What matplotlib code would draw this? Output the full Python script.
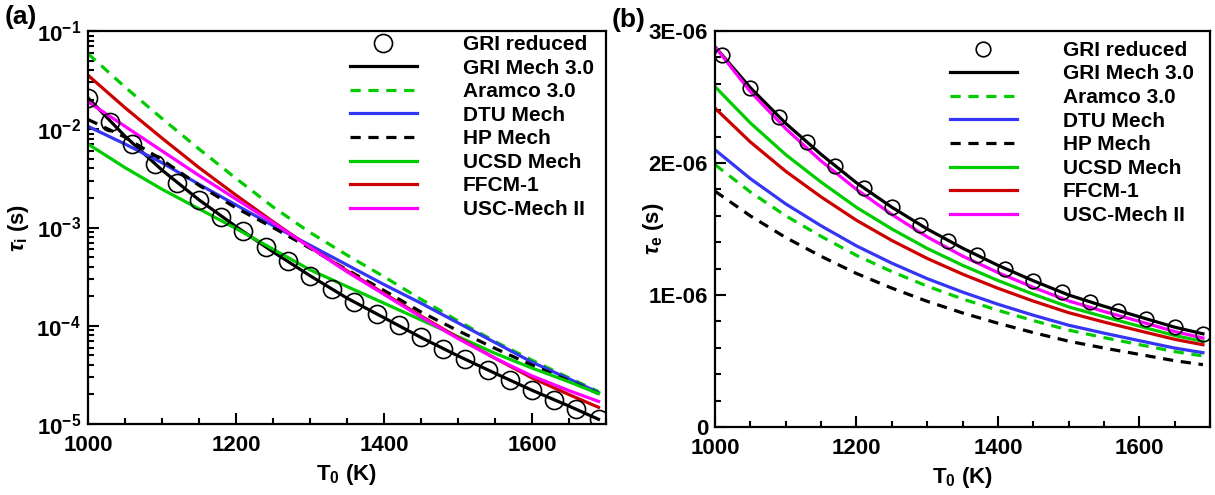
import numpy as np
import matplotlib
matplotlib.use("Agg")
import matplotlib.pyplot as plt
from matplotlib.ticker import FixedLocator, MultipleLocator, LogLocator, NullFormatter

plt.rcParams['font.family'] = ['Liberation Sans', 'DejaVu Sans']
plt.rcParams['font.weight'] = 'bold'
plt.rcParams['mathtext.fontset'] = 'custom'
plt.rcParams['mathtext.rm'] = 'Liberation Sans'
plt.rcParams['mathtext.bf'] = 'Liberation Sans:bold'
plt.rcParams['mathtext.it'] = 'Liberation Sans:italic'

# temperatures (K)
T_line = [1000, 1050, 1100, 1150, 1200, 1250, 1300, 1350, 1400, 1450, 1500, 1550, 1600, 1650, 1690]
T_red_a = [1000, 1030, 1060, 1090, 1120, 1150, 1180, 1210, 1240, 1270, 1300, 1330,
           1360, 1390, 1420, 1450, 1480, 1510, 1540, 1570, 1600, 1630, 1660, 1690]
T_red_b = [1010, 1050, 1090, 1130, 1170, 1210, 1250, 1290, 1330, 1370, 1410, 1450,
           1490, 1530, 1570, 1610, 1650, 1690]

# (a) ignition delay, log10(tau_i / s)
red_a = [-1.68, -1.925, -2.146, -2.35, -2.544, -2.718, -2.888, -3.037, -3.20, -3.34, -3.49, -3.63,
         -3.762, -3.881, -3.993, -4.119, -4.238, -4.34, -4.45, -4.55, -4.656, -4.752, -4.85, -4.952]
gri_a = [-1.68, -2.07, -2.415, -2.718, -2.99, -3.247, -3.49, -3.718, -3.918, -4.119, -4.306, -4.483, -4.656, -4.817, -4.952]
aramco_a = [-1.23, -1.57, -1.89, -2.20, -2.50, -2.79, -3.05, -3.28, -3.50, -3.73, -3.95, -4.16, -4.35, -4.53, -4.67]
dtu_a = [-1.97, -2.15, -2.34, -2.56, -2.77, -2.98, -3.18, -3.38, -3.58, -3.77, -3.97, -4.17, -4.37, -4.54, -4.68]
hp_a = [-1.90, -2.08, -2.31, -2.57, -2.80, -3.00, -3.21, -3.43, -3.64, -3.86, -4.05, -4.23, -4.40, -4.56, -4.69]
ucsd_a = [-2.15, -2.39, -2.61, -2.81, -3.01, -3.22, -3.43, -3.60, -3.77, -3.94, -4.11, -4.28, -4.43, -4.57, -4.69]
ffcm_a = [-1.45, -1.78, -2.09, -2.39, -2.67, -2.94, -3.20, -3.44, -3.67, -3.90, -4.12, -4.33, -4.53, -4.70, -4.83]
usc_a = [-1.72, -1.97, -2.22, -2.47, -2.71, -2.95, -3.20, -3.45, -3.68, -3.91, -4.13, -4.33, -4.51, -4.66, -4.77]

# (b) excitation time, tau_e in microseconds
red_b = [2.82, 2.57, 2.35, 2.16, 1.975, 1.81, 1.665, 1.53, 1.41, 1.30, 1.20, 1.108,
         1.02, 0.95, 0.882, 0.82, 0.756, 0.706]
gri_b = [2.88, 2.57, 2.30, 2.065, 1.85, 1.665, 1.50, 1.355, 1.225, 1.108, 1.00, 0.915, 0.835, 0.756, 0.706]
aramco_b = [1.987, 1.78, 1.60, 1.444, 1.30, 1.177, 1.067, 0.97, 0.884, 0.806, 0.734, 0.677, 0.624, 0.571, 0.538]
dtu_b = [2.10, 1.881, 1.69, 1.524, 1.372, 1.241, 1.124, 1.022, 0.930, 0.847, 0.771, 0.711, 0.654, 0.598, 0.563]
hp_b = [1.786, 1.599, 1.435, 1.293, 1.163, 1.052, 0.952, 0.864, 0.786, 0.715, 0.650, 0.598, 0.550, 0.502, 0.472]
ucsd_b = [2.578, 2.303, 2.063, 1.855, 1.664, 1.50, 1.353, 1.225, 1.11, 1.006, 0.91, 0.835, 0.764, 0.693, 0.649]
ffcm_b = [2.415, 2.159, 1.937, 1.743, 1.566, 1.413, 1.277, 1.158, 1.051, 0.954, 0.866, 0.795, 0.729, 0.664, 0.623]
usc_b = [2.88, 2.54, 2.26, 2.015, 1.80, 1.61, 1.44, 1.295, 1.17, 1.058, 0.955, 0.875, 0.80, 0.723, 0.674]

names = ['GRI Mech 3.0', 'Aramco 3.0', 'DTU Mech', 'HP Mech', 'UCSD Mech', 'FFCM-1', 'USC-Mech II']
colors = ['black', '#00cc00', '#3535f5', 'black', '#00cc00', '#cc0000', '#ff00ff']
styles = ['-', '--', '-', '--', '-', '-', '-']

lw = 2.3
fig = plt.figure(figsize=(12.15, 4.95), dpi=100)
ax1 = fig.add_axes([0.0724, 0.1434, 0.4263, 0.7939])
ax2 = fig.add_axes([0.5885, 0.1374, 0.4074, 0.8000])


def draw(ax, Tred, red, curves, ms):
    ax.plot(Tred, red, 'o', ms=ms, mfc='none', mec='black', mew=1.2, label='GRI reduced', zorder=5)
    for name, y, c, ls in zip(names, curves, colors, styles):
        line, = ax.plot(T_line, y, color=c, ls=ls, lw=lw, label=name)
        if ls == '--':
            line.set_dashes((3.2, 2.4))


draw(ax1, T_red_a, 10 ** np.array(red_a),
     [10 ** np.array(v) for v in (gri_a, aramco_a, dtu_a, hp_a, ucsd_a, ffcm_a, usc_a)], 13)
draw(ax2, T_red_b, np.array(red_b) * 1e-6,
     [np.array(v) * 1e-6 for v in (gri_b, aramco_b, dtu_b, hp_b, ucsd_b, ffcm_b, usc_b)], 10.5)

for ax in (ax1, ax2):
    ax.set_xlim(1000, 1700)
    ax.xaxis.set_major_locator(FixedLocator([1000, 1200, 1400, 1600]))
    ax.xaxis.set_minor_locator(MultipleLocator(50))
    ax.tick_params(which='both', direction='in', top=False, right=False, width=1.5, labelsize=16)
    ax.tick_params(axis='x', pad=8)
    ax.tick_params(axis='y', pad=5)
    ax.tick_params(which='major', length=8)
    ax.tick_params(which='minor', length=4.5)
    for s in ax.spines.values():
        s.set_linewidth(1.6)
    ax.set_xlabel(r'$\mathbf{T_0}$ (K)', fontsize=16, fontweight='bold', labelpad=4)
    ax.legend(loc='upper left', frameon=False, fontsize=15, handlelength=3.2, handletextpad=2.2,
              labelspacing=0.22, borderpad=0, borderaxespad=0, numpoints=1,
              prop={'weight': 'bold', 'size': 15},
              bbox_to_anchor=(0.506, 0.99) if ax is ax1 else (0.475, 0.975))

ax1.set_yscale('log')
ax1.set_ylim(1e-5, 1e-1)
ax1.yaxis.set_major_locator(LogLocator(base=10, numticks=10))
ax1.yaxis.set_minor_locator(LogLocator(base=10, subs=np.arange(2, 10), numticks=20))
ax1.yaxis.set_minor_formatter(NullFormatter())
ax1.set_yticks([1e-5, 1e-4, 1e-3, 1e-2, 1e-1])
ax1.set_yticklabels([r'$\mathbf{10^{-%d}}$' % k for k in (5, 4, 3, 2, 1)])
ax1.set_ylabel(r'$\tau_\mathregular{i}$ (s)', fontsize=16, fontweight='bold')
ax1.yaxis.set_label_coords(-0.11, 0.5)

ax2.set_ylim(0, 3e-6)
ax2.set_yticks([0, 1e-6, 2e-6, 3e-6])
ax2.set_yticklabels(['0', '1E-06', '2E-06', '3E-06'])
ax2.yaxis.set_minor_locator(MultipleLocator(0.2e-6))
ax2.set_ylabel(r'$\tau_\mathregular{e}$ (s)', fontsize=16, fontweight='bold')
ax2.yaxis.set_label_coords(-0.1, 0.5)

fig.text(0.004, 0.966, '(a)', fontsize=19, fontweight='bold', va='center')
fig.text(0.503, 0.96, '(b)', fontsize=19, fontweight='bold', va='center')

fig.savefig('out.png', dpi=100)
